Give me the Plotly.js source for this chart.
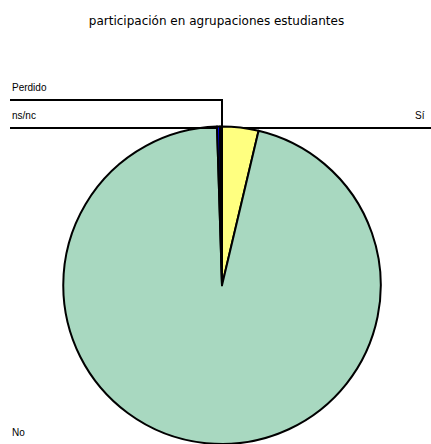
<!DOCTYPE html>
<html>
<head>
<meta charset="utf-8">
<script src="https://cdn.plot.ly/plotly-3.0.1.min.js"></script>
<style>html,body{margin:0;padding:0;background:#fff;}#chart{width:431px;height:444px;}</style>
</head>
<body>
<div id="chart"></div>
<script>
const chartTitle = "participación en agrupaciones estudiantes";
const categories = ["Sí", "No", "ns/nc", "Perdido"];
const values = [3.7, 95.8, 0.3, 0.2];
const colors = ["#FFFF80", "#A8D8C0", "#0000FF", "#FF00FF"];

const W = 431, H = 444;
const px = x => x / W;
const py = y => 1 - y / H;
const font = {family: "Liberation Sans, Arial, sans-serif", size: 10, color: "#000"};

const data = [{
  type: "pie",
  labels: categories,
  values: values,
  sort: false,
  direction: "clockwise",
  rotation: 0,
  textinfo: "none",
  hoverinfo: "label+percent",
  marker: {colors: colors, line: {color: "#000", width: 2}},
  domain: {x: [px(63), px(381)], y: [py(444.5), py(126.5)]},
  showlegend: false
}];

const lineStyle = {color: "#000", width: 2};
const layout = {
  width: W, height: H,
  margin: {l: 0, r: 0, t: 0, b: 0},
  paper_bgcolor: "#fff",
  title: {text: chartTitle, font: {family: "DejaVu Sans, sans-serif", size: 12, color: "#000"},
          x: px(216.5), xanchor: "center", y: py(21), yanchor: "middle", yref: "paper"},
  showlegend: false,
  shapes: [
    {type: "path", xref: "paper", yref: "paper",
     path: `M ${px(10)} ${py(100)} L ${px(222)} ${py(100)} L ${px(222)} ${py(128)}`, line: lineStyle},
    {type: "line", xref: "paper", yref: "paper", x0: px(10), y0: py(128), x1: px(218), y1: py(128), line: lineStyle},
    {type: "line", xref: "paper", yref: "paper", x0: px(244), y0: py(128), x1: px(431), y1: py(128), line: lineStyle}
  ],
  annotations: [
    {text: categories[3], xref: "paper", yref: "paper", x: px(10), y: py(87), xanchor: "left", yanchor: "middle", showarrow: false, font: font},
    {text: categories[2], xref: "paper", yref: "paper", x: px(10), y: py(115), xanchor: "left", yanchor: "middle", showarrow: false, font: font},
    {text: categories[0], xref: "paper", yref: "paper", x: px(427), y: py(115), xanchor: "right", yanchor: "middle", showarrow: false, font: font},
    {text: categories[1], xref: "paper", yref: "paper", x: px(10), y: py(432), xanchor: "left", yanchor: "middle", showarrow: false, font: font}
  ]
};

Plotly.newPlot("chart", data, layout, {displayModeBar: false, staticPlot: true});
</script>
</body>
</html>
